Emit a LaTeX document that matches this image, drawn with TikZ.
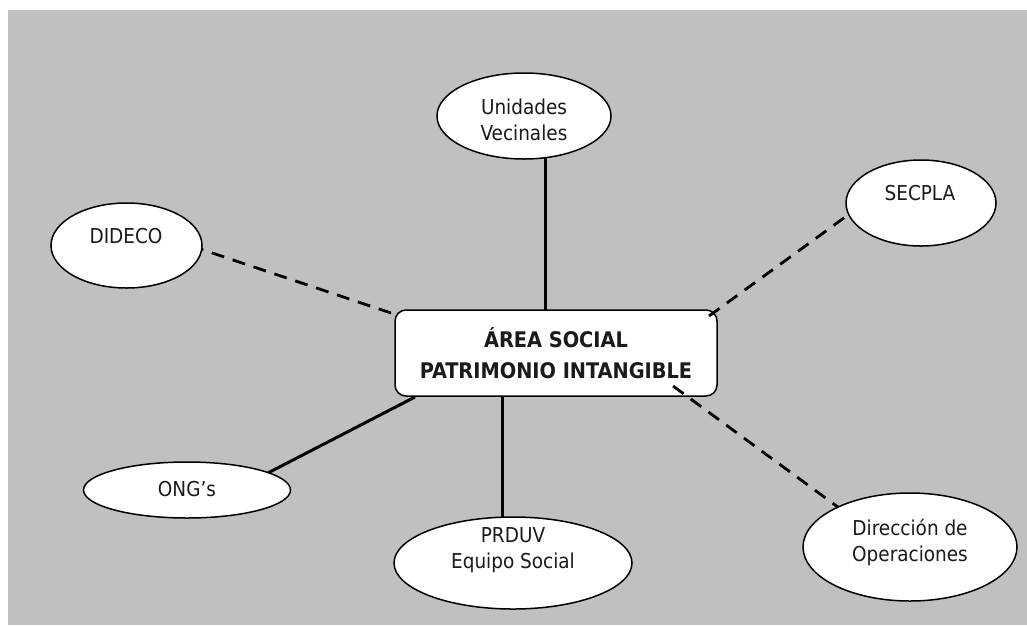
\documentclass[tikz,border=0pt]{standalone}
\usepackage{fontspec}
\setmainfont{DejaVu Sans Condensed}
\usetikzlibrary{shapes.geometric,calc}
\definecolor{canvas}{HTML}{C0C0C0}
\definecolor{ink}{HTML}{1A1A1A}
\begin{document}
\begin{tikzpicture}[x=1pt,y=-1pt,
  oval/.style={ellipse,draw=black,line width=1.5pt,fill=white,inner sep=0pt,outer sep=0pt},
  lbl/.style={text=ink,align=center,inner sep=0pt,font=\fontsize{20.5}{25.5}\selectfont},
  centerbox/.style={draw=black,line width=1.5pt,fill=white,rounded corners=11pt,
    minimum width=322pt,minimum height=86pt,inner sep=0pt,outer sep=0pt},
  solidlink/.style={line width=3pt,black},
  dashlink/.style={line width=2.8pt,black,dash pattern=on 13pt off 9pt}]
\useasboundingbox (0,0) rectangle (1027,625);
\fill[canvas] (8,10) rectangle (1027,625);

% outer ovals
\node[oval,minimum width=174pt,minimum height=86pt] (uv)  at (524,116) {};
\node[oval,minimum width=151pt,minimum height=85pt] (did) at (126.5,245.5) {};
\node[oval,minimum width=150pt,minimum height=86pt] (sec) at (921,203) {};
\node[oval,minimum width=214pt,minimum height=108pt] (dir) at (910,547) {};
\node[oval,minimum width=238pt,minimum height=92pt] (pr)  at (513,563) {};
\node[oval,minimum width=207pt,minimum height=56pt] (ong) at (187,490) {};

% central box
\node[centerbox] (box) at (556,353) {};
\node[text=ink,align=center,inner sep=0pt,font=\bfseries\fontsize{21.5}{30.5}\selectfont]
  (boxtext) at (box.center) {ÁREA SOCIAL\\PATRIMONIO INTANGIBLE};

% connectors
\coordinate (bu) at ($(box.north)+(-11,0)$);
\coordinate (bp) at ($(box.south)+(-54,0)$);
\draw[solidlink] (bu) -- (bu |- uv.-63.4);
\draw[solidlink] (bp) -- (bp |- pr.103.6);
\draw[solidlink] ($(box.south west)+(20,1)$) -- (ong.12);
\draw[dashlink] ($(box.north west)+(-4,3)$) -- (did.-3.4);
\draw[dashlink] ($(box.north east)+(-8,6)$) -- (sec.189);
\draw[dashlink] ($(box.south east)+(-44,-10)$) -- (dir.151);

% oval texts
\node[lbl] (tuv)  at (524,120) {Unidades\\Vecinales};
\node[lbl] (tdid) at (126,236) {DIDECO};
\node[lbl] (tsec) at (920,193) {SECPLA};
\node[lbl] (tdir) at (910,542.5) {Dirección de\\Operaciones};
\node[lbl] (tpr)  at (513,550) {PRDUV\\Equipo Social};
\node[lbl] (tong) at (187,489) {ONG’s};
\end{tikzpicture}
\end{document}
